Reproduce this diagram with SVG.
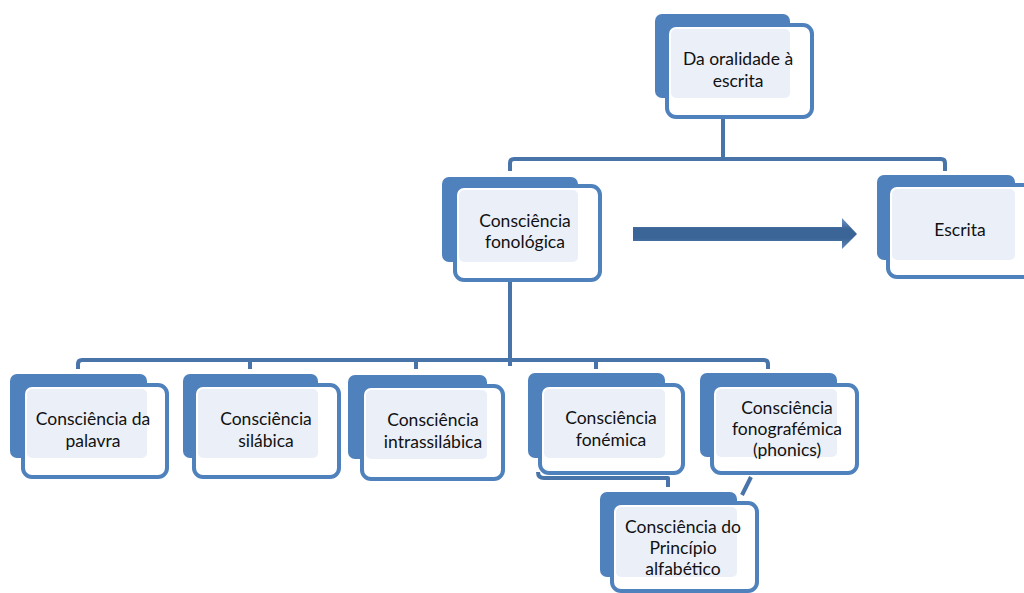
<svg xmlns="http://www.w3.org/2000/svg" width="1024" height="593" viewBox="0 0 1024 593">
<defs>
<style>
.back{fill:#4F81BD}
.front{fill:#FFFFFF;stroke:#4F81BD;stroke-width:4}
.panel{fill:#EBF0F8}
.conn{fill:none;stroke:#4874AA;stroke-width:4;stroke-linejoin:round;stroke-linecap:butt}
text{font-family:Lato,"Liberation Sans",sans-serif;font-size:17.5px;fill:#111111;text-anchor:middle}
</style>
<linearGradient id="arrowGrad" x1="0" y1="0" x2="0" y2="1">
<stop offset="0" stop-color="#7399C9"/>
<stop offset="0.35" stop-color="#3B6497"/>
<stop offset="0.65" stop-color="#3B6497"/>
<stop offset="1" stop-color="#6189BC"/>
</linearGradient>
</defs>
<rect width="1024" height="593" fill="#FFFFFF"/>
<g id="connectors">
<path class="conn" d="M723,112 V159"/>
<path class="conn" d="M510,171 V163 Q510,159 514,159 H941 Q945,159 945,163 V171"/>
<path class="conn" d="M510,278 V366"/>
<path class="conn" d="M78,369 V364 Q78,360 82,360 H764 Q768,360 768,364 V369"/>
<path class="conn" d="M250,360 V369 M416,360 V369 M596,360 V369"/>
<path class="conn" d="M538,472 Q538,478 544,478 H668 V487"/>
<path class="conn" d="M751,477 L742,495"/>
<path d="M633,227 H842 V218 L857,234 L842,249 V241 H633 Z" fill="url(#arrowGrad)"/>
</g>
<g id="n-oralidade">
<rect class="back" x="655" y="14" width="135" height="84" rx="7"/>
<rect class="front" x="667" y="25" width="145" height="92" rx="9"/>
<rect class="panel" x="671" y="29" width="119" height="69" rx="5"/>
<text x="738" y="65">Da oralidade à</text>
<text x="738" y="87">escrita</text>
</g>
<g id="n-fonologica">
<rect class="back" x="442" y="177" width="136" height="85" rx="7"/>
<rect class="front" x="455" y="186" width="145" height="94" rx="9"/>
<rect class="panel" x="459" y="190" width="119" height="72" rx="5"/>
<text x="525" y="227">Consciência</text>
<text x="525" y="248">fonológica</text>
</g>
<g id="n-escrita">
<rect class="back" x="877" y="175" width="138" height="85" rx="7"/>
<rect class="front" x="888" y="185" width="150" height="92" rx="9"/>
<rect class="panel" x="892" y="189" width="123" height="71" rx="5"/>
<text x="960" y="236">Escrita</text>
</g>
<g id="n-palavra">
<rect class="back" x="10" y="374" width="137" height="84" rx="7"/>
<rect class="front" x="23" y="385" width="144" height="92" rx="9"/>
<rect class="panel" x="27" y="389" width="120" height="69" rx="5"/>
<text x="93" y="425">Consciência da</text>
<text x="93" y="447">palavra</text>
</g>
<g id="n-silabica">
<rect class="back" x="183" y="374" width="135" height="84" rx="7"/>
<rect class="front" x="194" y="385" width="145" height="92" rx="9"/>
<rect class="panel" x="198" y="389" width="120" height="69" rx="5"/>
<text x="266" y="425">Consciência</text>
<text x="266" y="447">silábica</text>
</g>
<g id="n-intrassilabica">
<rect class="back" x="348" y="375" width="139" height="84" rx="7"/>
<rect class="front" x="362" y="386" width="141" height="93" rx="9"/>
<rect class="panel" x="366" y="390" width="121" height="69" rx="5"/>
<text x="433" y="426">Consciência</text>
<text x="433" y="448">intrassilábica</text>
</g>
<g id="n-fonemica">
<rect class="back" x="528" y="373" width="137" height="85" rx="7"/>
<rect class="front" x="540" y="385" width="143" height="88" rx="9"/>
<rect class="panel" x="544" y="389" width="121" height="69" rx="5"/>
<text x="611" y="424">Consciência</text>
<text x="611" y="446">fonémica</text>
</g>
<g id="n-fonografemica">
<rect class="back" x="700" y="373" width="137" height="84" rx="7"/>
<rect class="front" x="712" y="385" width="145" height="88" rx="9"/>
<rect class="panel" x="716" y="389" width="121" height="68" rx="5"/>
<text x="787" y="414">Consciência</text>
<text x="787" y="435">fonografémica</text>
<text x="787" y="456">(phonics)</text>
</g>
<g id="n-principio">
<rect class="back" x="600" y="492" width="137" height="85" rx="7"/>
<rect class="front" x="612" y="503" width="145" height="88" rx="9"/>
<rect class="panel" x="616" y="507" width="121" height="70" rx="5"/>
<text x="683" y="533">Consciência do</text>
<text x="683" y="554">Princípio</text>
<text x="683" y="575">alfabético</text>
</g>
</svg>
